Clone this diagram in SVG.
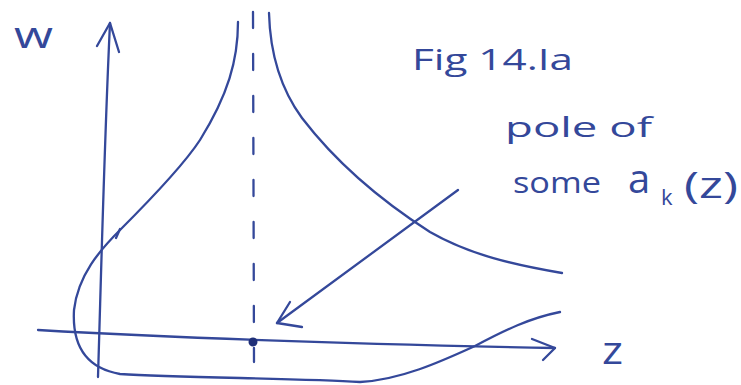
<svg xmlns="http://www.w3.org/2000/svg" width="741" height="385" viewBox="0 0 741 385">
<style>
.ink{fill:none;stroke:#34489a;stroke-width:2.3;stroke-linecap:round;stroke-linejoin:round}
.dash{stroke-dasharray:16 26}
.lbl{fill:#34489a;font-family:"Open Sans","DejaVu Sans",sans-serif;font-weight:400}
</style>
<rect width="741" height="385" fill="#ffffff"/>
<g id="connectors">
<path id="w-axis" class="ink" d="M98,377 C101,280 104,150 110,23"/>
<path class="ink" d="M97,46 L110,23 L119,52"/>
<path id="z-axis" class="ink" d="M38,330 Q250,342 555,348"/>
<path class="ink" d="M532,339 L555,348 L543,360"/>
<path id="asymptote" class="ink dash" d="M253,12 L254,362"/>
<path id="left-branch" class="ink" d="M238,22 C238,60 228,95 200,140 C185,163 150,200 120,230 C100,250 78,275 74,310 C72,345 85,368 120,374 C180,378 300,378 360,382 C400,380 440,362 475,346 C505,330 530,318 560,312"/>
<path class="ink" d="M116,238 L120,229"/>
<path id="right-branch" class="ink" d="M269,13 C270,50 280,88 302,118 C338,165 380,200 430,232 C470,255 515,265 562,273"/>
<path id="pointer" class="ink" d="M458,190 L277,323"/>
<path class="ink" d="M290,302 L277,323 L302,327"/>
</g>
<g id="pole">
<circle cx="253" cy="342" r="4.5" fill="#1f2f78"/>
</g>
<g id="label-w">
<text class="lbl" x="14" y="48" font-size="36" textLength="39" lengthAdjust="spacingAndGlyphs">w</text>
</g>
<g id="label-z">
<text class="lbl" x="602" y="364" font-size="38" textLength="21" lengthAdjust="spacingAndGlyphs">z</text>
</g>
<g id="label-fig">
<text class="lbl" x="412" y="70" font-size="30" textLength="161" lengthAdjust="spacingAndGlyphs">Fig 14.Ia</text>
</g>
<g id="label-pole">
<text class="lbl" x="505" y="137" font-size="28" textLength="147" lengthAdjust="spacingAndGlyphs">pole of</text>
<text class="lbl" font-size="30"><tspan x="513" y="193" textLength="88" lengthAdjust="spacingAndGlyphs">some</tspan><tspan x="628" y="193" font-size="40">a</tspan><tspan x="661" y="205" font-size="22">k</tspan><tspan x="684" y="198" font-size="36" textLength="54" lengthAdjust="spacingAndGlyphs">(z)</tspan></text>
</g>
</svg>
